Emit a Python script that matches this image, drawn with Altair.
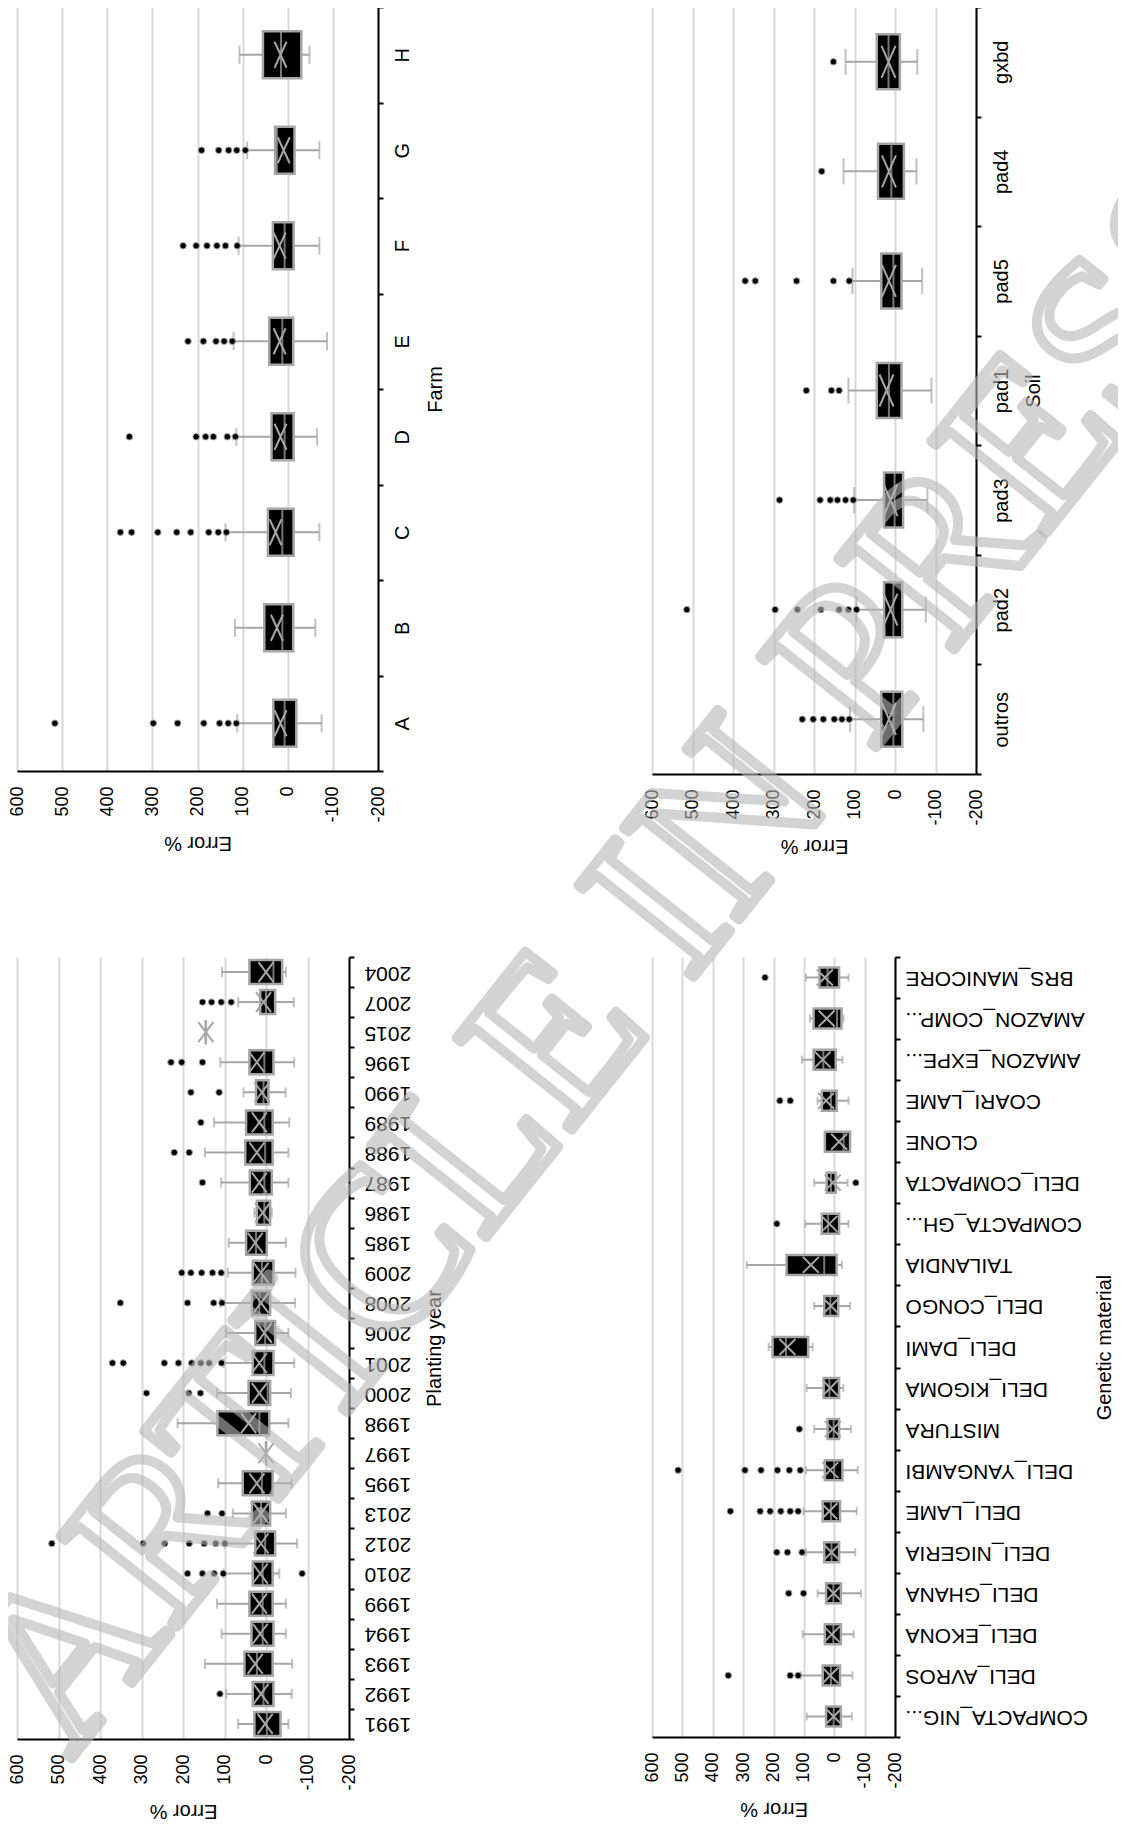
import altair as alt
import pandas as pd

FONT = "Liberation Sans, Arial, sans-serif"
GRAY = "#a6a6a6"
GRID = "#d9d9d9"
VALUE_TICKS = [600, 500, 400, 300, 200, 100, 0, -100, -200]
WATERMARK = "ARTICLE IN PRESS"

# ---------------- Farm ----------------
farm_cats = ["A", "B", "C", "D", "E", "F", "G", "H"]
farm_lo = [-75, -61, -70, -65, -87, -70, -70, -48]
farm_q1 = [-19, -12, -13, -13, -12, -13, -15, -30]
farm_med = [7, 12, 12, 7, 12, 7, 24, 15]
farm_q3 = [32, 52, 44, 36, 41, 33, 28, 55]
farm_hi = [112, 117, 138, 114, 120, 109, 90, 107]
farm_mean = [16, 24, 27, 16, 18, 18, 9, 16]
farm_out = [
    [516, 298, 244, 186, 151, 132, 114],
    [],
    [371, 346, 288, 246, 215, 175, 154, 136],
    [351, 203, 182, 165, 134, 116],
    [221, 187, 159, 141, 123],
    [232, 203, 179, 157, 138, 112],
    [191, 153, 131, 113, 94],
    [],
]

# ---------------- Soil ----------------
soil_cats = ["outros", "pad2", "pad3", "pad1", "pad5", "pad4", "gxbd"]
soil_lo = [-70, -76, -80, -90, -67, -53, -55]
soil_q1 = [-18, -18, -20, -16, -16, -22, -12]
soil_med = [4, 4, 1, 15, 4, 9, 16]
soil_q3 = [34, 27, 27, 45, 34, 42, 45]
soil_hi = [111, 95, 101, 115, 105, 127, 122]
soil_mean = [15, 11, 11, 21, 15, 15, 16]
soil_out = [
    [229, 202, 177, 150, 131, 113],
    [514, 296, 241, 183, 138, 115, 95],
    [285, 185, 160, 142, 122, 103],
    [219, 157, 138],
    [370, 345, 243, 152, 113],
    [181],
    [152],
]

# ---------------- Planting year ----------------
year_cats = ["1991", "1992", "1993", "1994", "1999", "2010", "2012", "2013", "1995",
             "1997", "1998", "2000", "2001", "2006", "2008", "2009", "1985", "1986",
             "1987", "1988", "1989", "1990", "1996", "2015", "2007", "2004"]
year_lo = [-54, -62, -63, -48, -48, -32, -75, -48, -62, 0, -54, -60, -68, -54, -70, -71,
           -48, -14, -54, -54, -56, -47, -68, 145, -67, -48]
year_q1 = [-35, -18, -16, -18, -16, -16, -22, -10, -16, 0, -8, -10, -18, -22, -10, -18,
           -2, -10, -14, -16, -16, -6, -18, 145, -22, -39]
year_med = [-2, 6, 22, 8, 8, 8, 2, 12, 10, 0, 16, -4, 4, 2, 16, 10,
            24, 4, 4, 2, 4, 6, 4, 145, 0, -18]
year_q3 = [28, 32, 52, 35, 40, 32, 26, 34, 56, 0, 117, 42, 32, 26, 34, 32,
           48, 22, 39, 50, 48, 24, 40, 145, 14, 40]
year_hi = [67, 96, 147, 107, 118, 102, 100, 80, 115, 0, 213, 118, 102, 96, 110, 92,
           90, 28, 108, 147, 125, 54, 110, 145, 67, 106]
year_mean = [2, 12, 26, 14, 16, 14, 12, 12, 22, 0, 42, 16, 16, 4, 12, 12,
             26, 8, 16, 22, 16, 10, 22, 145, 6, 0]
year_out = [
    [], [111], [], [], [],
    [189, 153, 125, 103, -87],
    [516, 296, 244, 185, 149, 121, 99],
    [141, 106],
    [], [], [],
    [288, 186, 158],
    [370, 344, 245, 211, 179, 157, 137, 107],
    [],
    [351, 189, 126, 106],
    [203, 181, 155, 129, 108],
    [], [],
    [153],
    [221, 185],
    [157],
    [181, 113],
    [229, 203, 153],
    [],
    [153, 131, 108, 84],
    [],
]

# ---------------- Genetic material ----------------
gen_cats = ["COMPACTA_NIG...", "DELI_AVROS", "DELI_EKONA", "DELI_GHANA", "DELI_NIGERIA",
            "DELI_LAME", "DELI_YANGAMBI", "MISTURA", "DELI_KIGOMA", "DELI_DAMI",
            "DELI_CONGO", "TAILANDIA", "COMPACTA_GH...", "DELI_COMPACTA", "CLONE",
            "COARI_LAME", "AMAZON_EXPE...", "AMAZON_COMP...", "BRS_MANICORE"]
gen_lo = [-58, -60, -64, -88, -69, -74, -77, -55, -30, 71, -52, -25, -47, -44, -52, -47, -27, -30, -47]
gen_q1 = [-22, -19, -22, -22, -16, -19, -27, -16, -16, 86, -13, -8, -16, -5, -52, -8, -5, -24, -16]
gen_med = [2, 11, 3, 3, 9, 11, 0, 2, 16, 159, 13, 33, 20, 11, -31, 11, 36, -9, 22]
gen_q3 = [27, 38, 31, 27, 33, 38, 31, 22, 35, 203, 33, 157, 41, 25, 31, 41, 68, 68, 49]
gen_hi = [91, 110, 104, 55, 93, 101, 93, 66, 91, 216, 66, 288, 95, 66, 31, 55, 106, 80, 93]
gen_mean = [2, 13, 8, 2, 9, 16, 13, 5, 13, 154, 11, 77, 16, 5, -16, 27, 38, 25, 31]
gen_out = [
    [], [349, 145, 119], [], [150, 101], [189, 154, 106],
    [342, 244, 211, 176, 145, 119],
    [514, 294, 241, 187, 148, 112],
    [115], [], [], [], [], [189], [-71], [], [179, 145], [], [], [228],
]


def panel(cats, lo, q1, med, q3, hi, mean, outliers, *, width, height, box, cap,
          xw, xh, lab_angle, lab_size, lab_pad, title, title_pad, extra=None):
    df = pd.DataFrame({"cat": cats, "lo": lo, "q1": q1, "med": med,
                       "q3": q3, "hi": hi, "mean": mean})
    out = pd.DataFrame([{"cat": c, "v": v} for c, vs in zip(cats, outliers) for v in vs])
    order = list(reversed(cats))
    xs = alt.Scale(domain=[-200, 600], reverse=True, nice=False, zero=False)
    xa = alt.Axis(values=VALUE_TICKS, grid=True, gridColor=GRID, gridWidth=2,
                  ticks=False, domainWidth=2, labelAngle=270, labelAlign="right",
                  labelBaseline="middle", labelFontSize=18, labelPadding=15,
                  labelFlush=False, labelOverlap=False,
                  labelExpr="'' + datum.value",
                  titleAngle=180, titleBaseline="bottom", titleFontSize=20,
                  titlePadding=10)
    if lab_angle == 270:
        la, lb = "center", "top"
    else:
        la, lb = "right", "middle"
    ya = alt.Axis(orient="right", grid=False, tickBand="extent", ticks=True,
                  tickSize=5, tickWidth=2, domainWidth=2, labelAngle=lab_angle,
                  labelAlign=la, labelBaseline=lb, labelFontSize=lab_size,
                  labelPadding=lab_pad, labelOverlap=False, labelLimit=0,
                  titleAngle=270, titleBaseline="top", titleFontSize=20,
                  titlePadding=title_pad)
    Y = alt.Y("cat:N", sort=order, scale=alt.Scale(paddingInner=0, paddingOuter=0),
              axis=ya, title=title)

    def X(f):
        return alt.X(f, type="quantitative", scale=xs, axis=xa, title="Error %")

    a = xw / xh
    xpath = f"M{-a},-1L{a},1M{-a},1L{a},-1"
    base = alt.Chart(df)
    layers = [
        base.mark_rule(color=GRAY, strokeWidth=2).encode(x=X("lo"), x2=alt.X2("hi"), y=Y),
        base.mark_tick(color=GRAY, thickness=2, size=cap).encode(x=X("lo"), y=Y),
        base.mark_tick(color=GRAY, thickness=2, size=cap).encode(x=X("hi"), y=Y),
        base.mark_bar(size=box, fill="black", stroke=GRAY, strokeWidth=2.5).encode(
            x=X("q1"), x2=alt.X2("q3"), y=Y),
        base.mark_tick(color=GRAY, thickness=2, size=box).encode(x=X("med"), y=Y),
        base.mark_point(shape=xpath, size=xh * xh, filled=False, color=GRAY,
                        strokeWidth=2, opacity=1).encode(x=X("mean"), y=Y),
        alt.Chart(out).mark_circle(size=42, color="black", stroke=GRAY, strokeWidth=1,
                                   opacity=1).encode(x=X("v"), y=Y),
    ]
    if extra is not None:
        layers.append(extra)
    return alt.layer(*layers).properties(width=width, height=height)


farm = panel(farm_cats, farm_lo, farm_q1, farm_med, farm_q3, farm_hi, farm_mean, farm_out,
             width=361, height=764, box=47, cap=18, xw=12, xh=26, lab_angle=270,
             lab_size=20, lab_pad=9, title="Farm", title_pad=13)
soil = panel(soil_cats, soil_lo, soil_q1, soil_med, soil_q3, soil_hi, soil_mean, soil_out,
             width=324, height=767, box=55, cap=26, xw=14, xh=32, lab_angle=270,
             lab_size=20, lab_pad=10, title="Soil", title_pad=12)
plant = panel(year_cats, year_lo, year_q1, year_med, year_q3, year_hi, year_mean, year_out,
              width=332, height=782, box=24, cap=10, xw=15, xh=20, lab_angle=180,
              lab_size=21, lab_pad=10, title="Planting year", title_pad=14)

wm = alt.Chart(pd.DataFrame({"t": [WATERMARK]})).mark_text(
    font="Liberation Serif", fontSize=225, angle=308.5, align="center",
    baseline="middle", fill="white", fillOpacity=0, stroke="#b5b5b5",
    strokeWidth=10, strokeOpacity=0.6, strokeJoin="round",
).encode(text="t:N", x=alt.value(-28), y=alt.value(-2))

gen = panel(gen_cats, gen_lo, gen_q1, gen_med, gen_q3, gen_hi, gen_mean, gen_out,
            width=243, height=780, box=20, cap=8, xw=16, xh=16, lab_angle=180,
            lab_size=21, lab_pad=5, title="Genetic material", title_pad=7, extra=wm)

chart = alt.concat(
    farm, soil, plant, gen, columns=2,
    spacing={"row": 183, "column": 274}, bounds="flush", align="each",
).properties(
    padding={"left": -79, "right": -202, "top": -2, "bottom": 3}
).configure_view(strokeWidth=0).configure_axis(
    labelFont=FONT, titleFont=FONT, labelColor="black", titleColor="black",
    titleFontWeight="normal", domainColor="black", tickColor="black",
)

chart.save("out.html", embed_options={"renderer": "svg", "actions": False})
